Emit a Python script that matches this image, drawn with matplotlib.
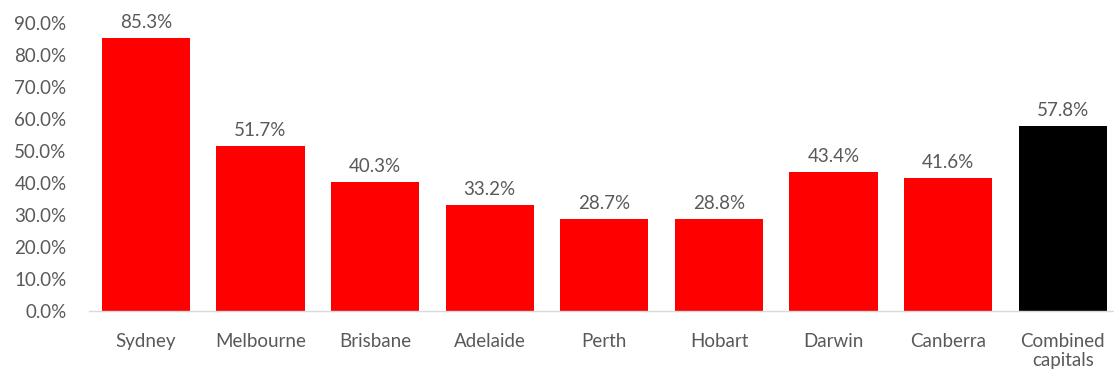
import matplotlib.pyplot as plt
from matplotlib.ticker import FuncFormatter

plt.rcParams['font.family'] = ['Lato', 'DejaVu Sans']

cities = ['Sydney', 'Melbourne', 'Brisbane', 'Adelaide', 'Perth',
          'Hobart', 'Darwin', 'Canberra', 'Combined\ncapitals']
shares = [85.3, 51.7, 40.3, 33.2, 28.7, 28.8, 43.4, 41.6, 57.8]
bar_colours = ['#ff0000'] * 8 + ['#000000']

text_grey = '#595959'
fs = 13.5

fig = plt.figure(figsize=(11.14, 3.8), dpi=100)
ax = fig.add_axes([0.0796, 0.1816, 0.9204, 0.7579])

x = range(len(cities))
bars = ax.bar(x, shares, width=0.77, color=bar_colours)

for b, v in zip(bars, shares):
    ax.annotate(f'{v:.1f}%', (b.get_x() + b.get_width() / 2, v),
                xytext=(0, 5), textcoords='offset points',
                ha='center', va='bottom', fontsize=fs, color=text_grey,
                annotation_clip=False)

ax.set_xlim(-0.5, 8.447)
ax.set_ylim(0, 90)
ax.set_yticks(range(0, 91, 10))
ax.yaxis.set_major_formatter(FuncFormatter(lambda v, _: f'{v:.1f}%'))
ax.set_xticks(list(x))
ax.set_xticklabels(cities, linespacing=1.1)

ax.tick_params(axis='y', length=0, pad=16, labelsize=fs, labelcolor=text_grey)
ax.tick_params(axis='x', length=0, pad=16, labelsize=fs, labelcolor=text_grey)

for side in ['top', 'right', 'left']:
    ax.spines[side].set_visible(False)
ax.spines['bottom'].set_color('#d9d9d9')
ax.spines['bottom'].set_linewidth(1)

fig.savefig('out.png', dpi=100)
